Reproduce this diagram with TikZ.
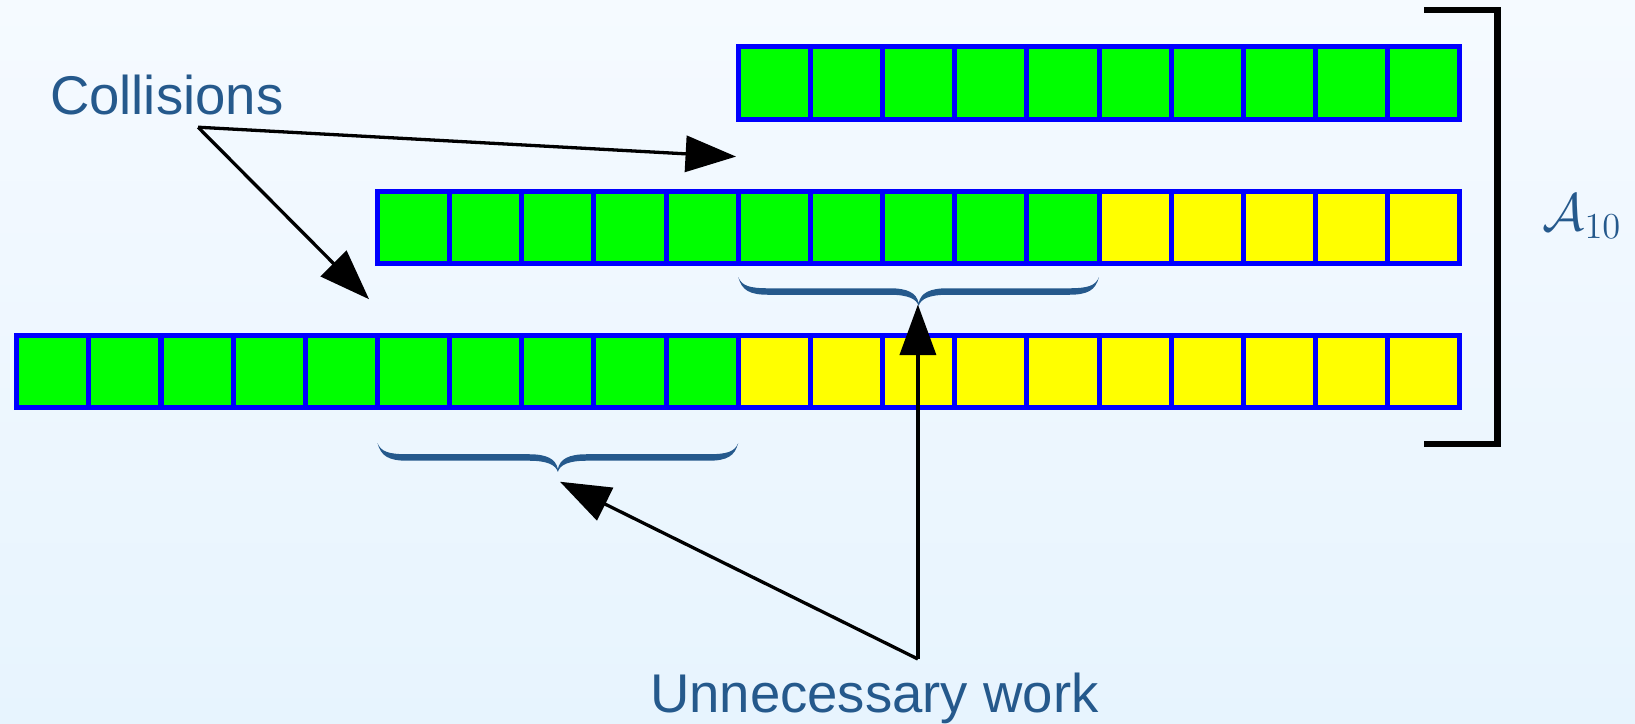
\documentclass[tikz,border=0pt]{standalone}
\usepackage{fontspec}
\setmainfont{Liberation Sans}
\usetikzlibrary{arrows.meta,calc}
\definecolor{cellgreen}{RGB}{0,255,0}
\definecolor{cellyellow}{RGB}{255,255,0}
\definecolor{cellblue}{RGB}{0,0,255}
\definecolor{labelblue}{RGB}{37,89,140}
\definecolor{bgtop}{RGB}{245,250,255}
\definecolor{bgbottom}{RGB}{231,244,254}

\begin{document}
\begin{tikzpicture}[
  cell/.style={draw=cellblue, line width=2pt, minimum size=1cm, inner sep=0pt, outer sep=0pt},
  gcell/.style={cell, fill=cellgreen},
  ycell/.style={cell, fill=cellyellow},
  txt/.style={text=labelblue, font=\fontsize{21.5}{26}\selectfont, inner sep=0pt},
  pointer/.style={line width=1.3pt, -{Triangle[length=0.7cm,width=0.5cm]}},
  bracket/.style={line width=2.5pt, line join=miter},
  % tapered downward brace, 5 units wide, hooks at (0,0) and (5,0)
  tbrace/.pic={
    \fill[labelblue] (0,0) .. controls (0.05,-0.18) and (0.15,-0.245) .. (0.42,-0.245)
      -- (2.1,-0.245) .. controls (2.35,-0.245) and (2.47,-0.3) .. (2.5,-0.40)
      .. controls (2.53,-0.3) and (2.65,-0.245) .. (2.9,-0.245)
      -- (4.58,-0.245) .. controls (4.85,-0.245) and (4.95,-0.18) .. (5,0)
      .. controls (4.95,-0.12) and (4.85,-0.155) .. (4.58,-0.155)
      -- (2.9,-0.155) .. controls (2.65,-0.155) and (2.53,-0.22) .. (2.5,-0.36)
      .. controls (2.47,-0.22) and (2.35,-0.155) .. (2.1,-0.155)
      -- (0.42,-0.155) .. controls (0.15,-0.155) and (0.05,-0.12) .. (0,0) -- cycle;
  }
]
% background
\shade[top color=bgtop, bottom color=bgbottom] (-0.231,-4.379) rectangle (22.428,5.650);
\useasboundingbox (-0.231,-4.379) rectangle (22.428,5.650);

% bottom row: 20 cells
\foreach \i in {0,...,9}   \node[gcell] (b\i) at (\i+0.5,0.5) {};
\foreach \i in {10,...,19} \node[ycell] (b\i) at (\i+0.5,0.5) {};
% middle row: 15 cells
\foreach \i in {5,...,14}  \node[gcell] (m\i) at (\i+0.5,2.5) {};
\foreach \i in {15,...,19} \node[ycell] (m\i) at (\i+0.5,2.5) {};
% top row: 10 cells
\foreach \i in {10,...,19} \node[gcell] (t\i) at (\i+0.5,4.5) {};

% overlap braces
\coordinate (braceM) at ($(m10.south west)+(0,-0.19)$);
\coordinate (braceB) at ($(b5.south west)+(0,-0.49)$);
\pic at (braceM) {tbrace};
\pic at (braceB) {tbrace};

% right bracket
\coordinate (brTop) at (19.51,5.51);
\coordinate (brBot) at (19.51,-0.506);
\draw[bracket] (brTop) -- (20.52,5.51) -- (20.52,-0.506) -- (brBot);
\node[text=labelblue, font=\fontsize{20}{24}\selectfont, inner sep=0pt, anchor=base west] (alab) at (21.14,2.46) {$\mathcal{A}_{10}$};

% labels
\node[txt, anchor=base] (coll) at (2.08,4.06) {Collisions};
\node[txt, anchor=base] (unnec) at (11.886,-4.22) {Unnecessary work};

% pointers
\coordinate (collSrc) at (2.514,3.887);
\coordinate (collTipA) at (9.97,3.48);
\coordinate (collTipB) at (4.884,1.503);
\coordinate (workSrc) at (12.49,-3.483);
\coordinate (workTipA) at (12.49,1.43);
\coordinate (workTipB) at (7.529,-1.026);
\draw[pointer] (collSrc) -- (collTipA);
\draw[pointer] (collSrc) -- (collTipB);
\draw[pointer] (workSrc) -- (workTipA);
\draw[pointer] (workSrc) -- (workTipB);
\end{tikzpicture}
\end{document}
